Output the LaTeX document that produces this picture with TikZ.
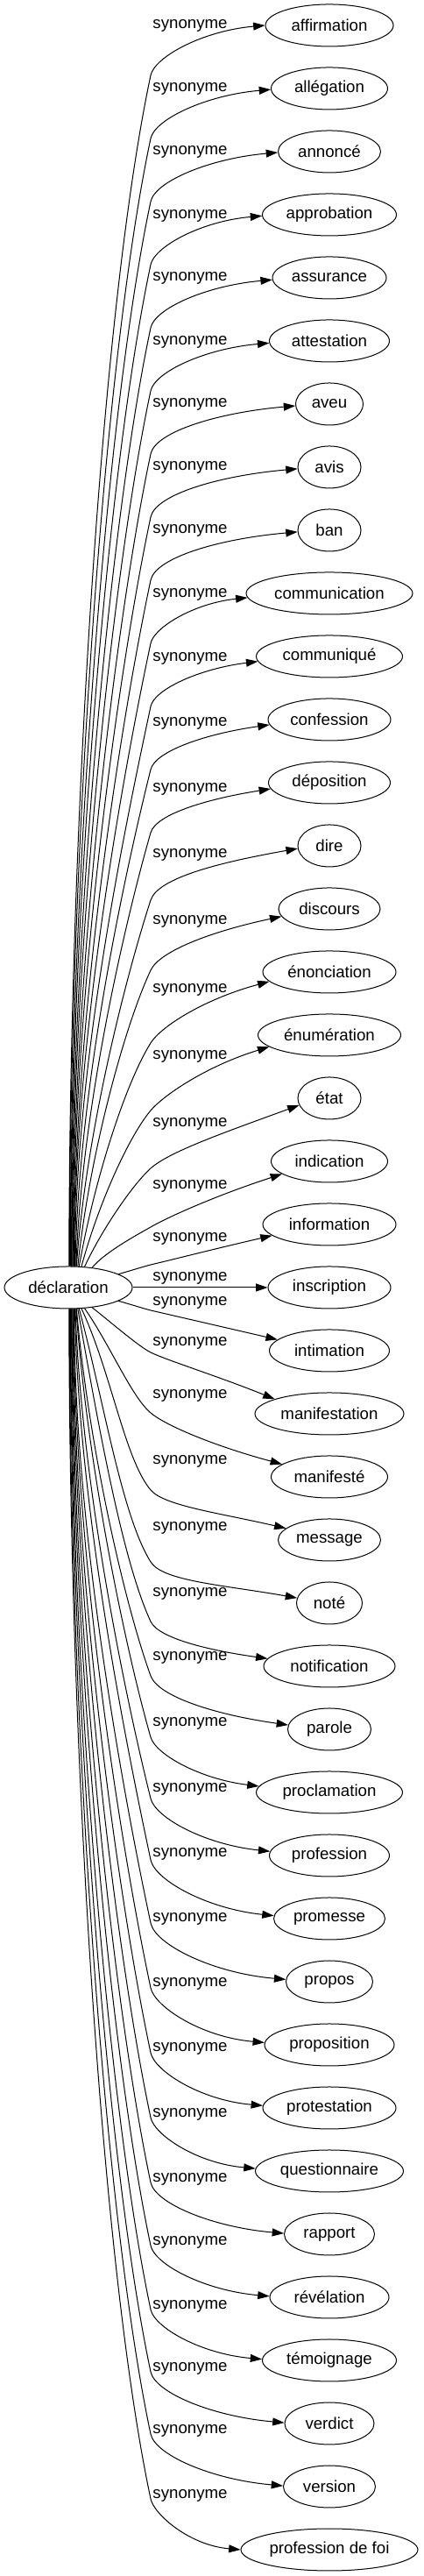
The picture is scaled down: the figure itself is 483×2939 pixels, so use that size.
\documentclass[tikz,border=0pt]{standalone}
\usepackage{fontspec}
\setmainfont{Liberation Sans}
\usetikzlibrary{arrows.meta,shapes.geometric,calc}
\begin{document}
\begin{tikzpicture}[x=0.75pt,y=0.75pt,
  tgt/.style={draw,ellipse,inner sep=0pt,minimum height=36pt,line width=0.75pt,font=\fontsize{14pt}{16pt}\selectfont},
  lbl/.style={inner sep=0pt,font=\fontsize{14pt}{16pt}\selectfont},
  synedge/.style={draw,line width=0.75pt,-{Triangle[length=10pt,width=6.7pt]}}]
\useasboundingbox (0,0) rectangle (483,2939);
\node[tgt,minimum width=109.5pt] (d) at (78,1470) {déclaration};
\foreach \i/\txt/\w/\Ly/\Py/\phi/\sa/\sd/\ea/\ein in {
0/affirmation/146/29/86/78/88/90/180/5,
1/allégation/133/101/158/78/87/90/181/5,
2/annoncé/117/173/230/78/85/90/181/5,
3/approbation/153/246/302/78/84/90/181/5,
4/assurance/130/317/374/78/82/90/182/5,
5/attestation/137/390/446/78/81/90/182/5,
6/aveu/77/461/518/78/79/90/183/5,
7/avis/72/533/590/78/78/90/183/5,
8/ban/72/605/662/78/76/90/183/5,
9/communication/190/678/734/78/75/90/183/6,
10/communiqué/167/751/806/78/73/90/184/7,
11/confession/140/825/878/76/72/89/185/8,
12/déposition/139/900/950/74/70/88/186/9,
13/dire/72/975/1027/72/69/86/185/10,
14/discours/116/1051/1107/65/66/84/189/12,
15/énonciation/152/1129/1190/58/63/80/189/15,
16/énumération/163/1205/1267/50/58/75/191/17,
17/état/72/1282/1333/42/52/65/193/20,
18/indication/133/1353/1400/30/40/50/195/18,
19/information/152/1413/1443/13/15/15/191/13,
20/inscription/140/1458/1469/0/0/0/180/0,
21/intimation/137/1486/1495/-13/-15/-15/168/-13,
22/manifestation/170/1532/1543/-26/-40/-38/165/-22,
23/manifesté/133/1592/1612/-40/-52/-55/165/-15,
24/message/117/1667/1700/-50/-58/-65/165/-13,
25/noté/75/1743/1782/-58/-63/-75/171/-10,
26/notification/150/1818/1850/-65/-66/-80/173/-8,
27/parole/95/1891/1912/-70/-69/-85/174/-8,
28/proclamation/167/1966/1982/-74/-70/-86/175/-7,
29/profession/137/2041/2052/-76/-72/-88/176/-6,
30/promesse/127/2115/2122/-78/-73/-89/177/-6,
31/propos/99/2189/2194/-78/-75/-90/177/-5,
32/proposition/148/2263/2268/-78/-76/-90/178/-5,
33/protestation/152/2337/2342/-78/-78/-90/178/-5,
34/questionnaire/169/2412/2416/-78/-79/-90/178/-5,
35/rapport/103/2486/2490/-78/-81/-90/179/-5,
36/révélation/136/2558/2562/-78/-82/-90/179/-5,
37/témoignage/153/2631/2635/-78/-84/-90/179/-5,
38/verdict/102/2702/2706/-78/-85/-90/179/-5,
39/version/105/2773/2777/-78/-87/-90/179/-5,
40/profession de foi/202/2847/2851/-78/-88/-90/180/-5}{
  \pgfmathsetmacro\Ty{29+72*\i}
  \pgfmathsetmacro\hA{max(0.35*abs(1469-\Py),8)}
  \pgfmathsetmacro\mA{max(0.2*abs(1469-\Py),5)}
  \pgfmathsetmacro\dA{veclen(376-\w/2-172,\Py-\Ty)}
  \pgfmathsetmacro\nA{0.15*\dA}
  \pgfmathsetmacro\kA{0.5*\dA}
  \pgfmathsetmacro\phiB{\phi+180}
  \pgfmathsetmacro\einB{\ein+180}
  \node[tgt,minimum width=\w*0.75pt] (t\i) at (376,2939-\Ty) {\txt};
  \node[lbl] (l\i) at (217,2939-\Ly) {synonyme};
  \coordinate (p\i) at (172,2939-\Py);
  \draw[synedge] (d.\sa) .. controls ($(d.\sa)+(\sd:\hA)$) and ($(p\i)+(\phiB:\mA)$) .. (p\i)
     .. controls ($(p\i)+(\phi:\nA)$) and ($(t\i.\ea)+(\einB:\kA)$) .. (t\i.\ea);
}
\end{tikzpicture}
\end{document}
